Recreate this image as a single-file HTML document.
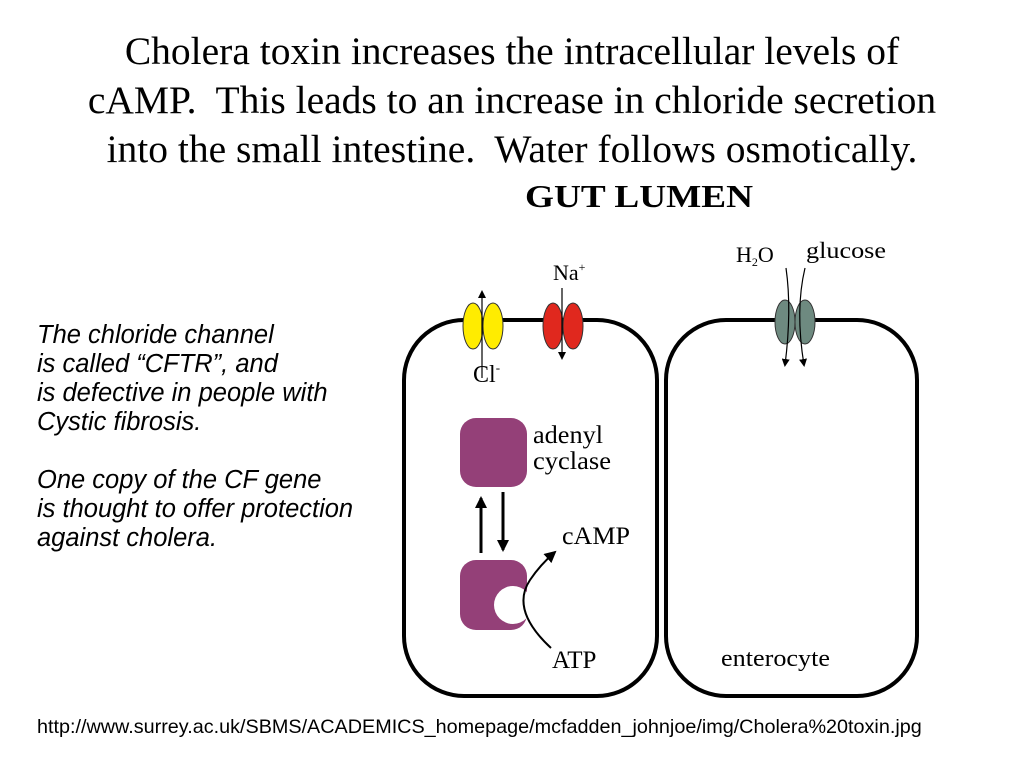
<!DOCTYPE html>
<html><head><meta charset="utf-8"><style>
body{margin:0;width:1024px;height:768px;background:#fff;position:relative;overflow:hidden}
.t{position:absolute;left:0;width:1024px;text-align:center;font-family:"Liberation Serif",serif;font-size:39.5px;line-height:49px;top:27px;color:#000;white-space:nowrap}
.l{position:absolute;left:37px;top:321px;font-family:"Liberation Sans",sans-serif;font-style:italic;font-size:25.5px;line-height:29px;white-space:nowrap}
.u{position:absolute;left:37px;top:716px;font-family:"Liberation Sans",sans-serif;font-size:19.8px;white-space:nowrap}
</style></head><body>
<div class="t">Cholera toxin increases the intracellular levels of<br>cAMP.&nbsp; This leads to an increase in chloride secretion<br>into the small intestine.&nbsp; Water follows osmotically.</div>
<div class="l">The chloride channel<br>is called “CFTR”, and<br>is defective in people with<br>Cystic fibrosis.<br><br>One copy of the CF gene<br>is thought to offer protection<br>against cholera.</div>
<div class="u">http://www.surrey.ac.uk/SBMS/ACADEMICS_homepage/mcfadden_johnjoe/img/Cholera%20toxin.jpg</div>
<svg width="1024" height="768" style="position:absolute;left:0;top:0" font-family="Liberation Serif, serif">
<defs><marker id="a" markerWidth="8" markerHeight="8" refX="6" refY="4" orient="auto" markerUnits="userSpaceOnUse"><path d="M0,0 L8,4 L0,8 z" fill="#000"/></marker>
<marker id="b" markerWidth="12" markerHeight="12" refX="10" refY="6" orient="auto" markerUnits="userSpaceOnUse"><path d="M0,0 L12,6 L0,12 z" fill="#000"/></marker></defs>
<text x="525" y="207" font-size="32" font-weight="bold" textLength="228" lengthAdjust="spacingAndGlyphs">GUT LUMEN</text>
<rect x="404" y="320" width="253" height="376" rx="60" fill="none" stroke="#000" stroke-width="4"/>
<rect x="666" y="320" width="251" height="376" rx="60" fill="none" stroke="#000" stroke-width="4"/>
<g stroke="#333" stroke-width="1">
<ellipse cx="473" cy="326" rx="10" ry="23" fill="#ffec00"/><ellipse cx="493" cy="326" rx="10" ry="23" fill="#ffec00"/>
<ellipse cx="553" cy="326" rx="10" ry="23" fill="#e0281e"/><ellipse cx="573" cy="326" rx="10" ry="23" fill="#e0281e"/>
<ellipse cx="785" cy="322" rx="10" ry="22" fill="#6e8a80"/><ellipse cx="805" cy="322" rx="10" ry="22" fill="#6e8a80"/>
</g>
<line x1="482" y1="378" x2="482" y2="292" stroke="#000" stroke-width="1.2" marker-end="url(#a)"/>
<line x1="562" y1="288" x2="562" y2="358" stroke="#000" stroke-width="1.2" marker-end="url(#a)"/>
<path d="M786,268 Q792,310 785,365" fill="none" stroke="#000" stroke-width="1.2" marker-end="url(#a)"/>
<path d="M805,268 Q795,310 804,365" fill="none" stroke="#000" stroke-width="1.2" marker-end="url(#a)"/>
<text x="473" y="382" font-size="24">Cl<tspan font-size="13" dy="-10">-</tspan></text>
<text x="553" y="280" font-size="22">Na<tspan font-size="12" dy="-9">+</tspan></text>
<text x="736" y="262" font-size="22">H<tspan font-size="12" dy="4">2</tspan><tspan dy="-4">O</tspan></text>
<text x="806" y="258" font-size="23" textLength="80" lengthAdjust="spacingAndGlyphs">glucose</text>
<rect x="460" y="418" width="67" height="69" rx="16" fill="#944078"/>
<rect x="460" y="560" width="67" height="70" rx="16" fill="#944078"/>
<circle cx="513" cy="605" r="19" fill="#fff"/>
<line x1="481" y1="553" x2="481" y2="498" stroke="#000" stroke-width="3" marker-end="url(#b)"/>
<line x1="503" y1="492" x2="503" y2="550" stroke="#000" stroke-width="3" marker-end="url(#b)"/>
<path d="M551,648 Q510,610 530,580 Q540,565 555,552" fill="none" stroke="#000" stroke-width="2" marker-end="url(#b)"/>
<text x="533" y="443" font-size="25" textLength="70" lengthAdjust="spacingAndGlyphs">adenyl</text>
<text x="533" y="469" font-size="25" textLength="78" lengthAdjust="spacingAndGlyphs">cyclase</text>
<text x="562" y="544" font-size="25" textLength="68" lengthAdjust="spacingAndGlyphs">cAMP</text>
<text x="552" y="668" font-size="25">ATP</text>
<text x="721" y="666" font-size="24" textLength="109" lengthAdjust="spacingAndGlyphs">enterocyte</text>
</svg>
</body></html>
